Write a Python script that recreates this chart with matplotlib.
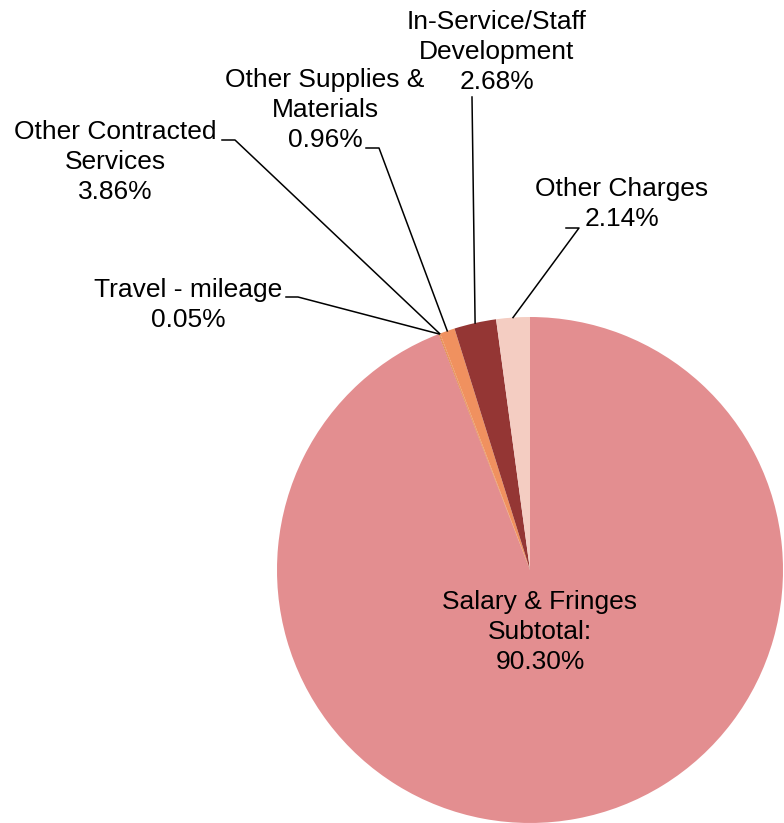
import numpy as np
import matplotlib
matplotlib.use("Agg")
import matplotlib.pyplot as plt

plt.rcParams['font.family'] = ['Liberation Sans', 'DejaVu Sans']

# slice order as drawn clockwise from 12 o'clock
categories = ["Salary & Fringes\nSubtotal:", "Travel - mileage", "Other Contracted\nServices",
              "Other Supplies &\nMaterials", "In-Service/Staff\nDevelopment", "Other Charges"]
# visible slice shares
shares = [94.07, 0.05, 0.05, 0.96, 2.68, 2.14]
# percentages printed in the labels
pct_text = ["90.30%", "0.05%", "3.86%", "0.96%", "2.68%", "2.14%"]
colors = ["#E38E90", "#D9772F", "#E8803F", "#F0915F", "#943634", "#F4CDC2"]

W, H = 784, 823
cx, cy, R = 530, 570, 253   # pie centre / radius in pixels

def px(x, y):
    # pixel position -> data coords (pie radius = 1)
    return (x - cx) / R, (cy - y) / R

fig = plt.figure(figsize=(W / 100, H / 100), dpi=100)
ax = fig.add_axes([0, 0, 1, 1])
wedges, _ = ax.pie(shares, colors=colors, startangle=90, counterclock=False,
                   radius=1, wedgeprops=dict(linewidth=0))
ax.set_xlim(-cx / R, (W - cx) / R)
ax.set_ylim(-(H - cy) / R, cy / R)
ax.set_aspect('equal')
ax.axis('off')

fs = 19
# label text centres, and the elbow of the leader line (start, end) in pixels
label_pos = [(540, 632), (188, 305), (115, 162), (325, 110), (497, 52), (622, 204)]
elbows = [None, ((286, 297), (298, 297)), ((222, 140), (235, 140)),
          ((366, 148), (379, 148)), ((472, 97), (472, 97)), ((566, 228), (579, 228))]

for i, w in enumerate(wedges):
    x, y = px(*label_pos[i])
    ax.text(x, y, categories[i] + "\n" + pct_text[i], ha='center', va='center',
            fontsize=fs, linespacing=1.3, color='black')
    if elbows[i] is None:
        continue
    mid = np.deg2rad((w.theta1 + w.theta2) / 2)
    ex, ey = np.cos(mid), np.sin(mid)
    (x0, y0), (x1, y1) = px(*elbows[i][0]), px(*elbows[i][1])
    if i == 4:
        ax.plot([x0, ex], [y0, ey], color='black', lw=1.1)
    else:
        ax.plot([x0, x1, ex], [y0, y1, ey], color='black', lw=1.1)

fig.savefig("out.png", dpi=100)
